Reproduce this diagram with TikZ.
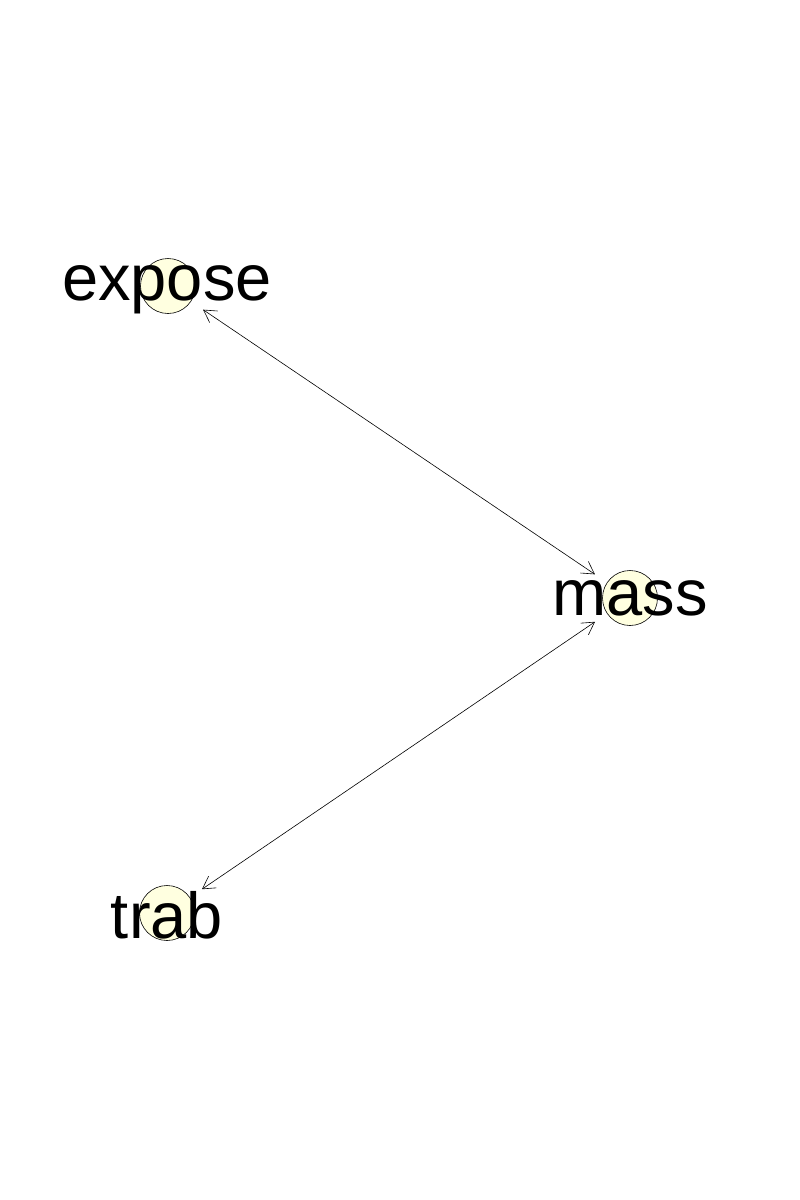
\documentclass[tikz,border=0pt]{standalone}
\usepackage{fontspec}
\setmainfont{Liberation Sans}
\usetikzlibrary{arrows.meta}
\definecolor{vertexcolor}{HTML}{FFFFE0}

\begin{document}
\begin{tikzpicture}[x=1pt, y=-1pt,
  vertex/.style={draw, circle, line width=0.6pt, minimum size=55pt, inner sep=0pt, fill=vertexcolor},
  vlabel/.style={anchor=base, inner sep=0pt, font=\fontsize{65pt}{78pt}\selectfont},
  edge/.style={line width=0.6pt, {Straight Barb[angle=60:14pt]}-{Straight Barb[angle=60:14pt]}, shorten <=14.5pt, shorten >=14.5pt}]%
\useasboundingbox (0,0) rectangle (800,1200);%
\node[vertex] (expose) at (168, 286) {};%
\node[vertex] (mass) at (630, 598) {};%
\node[vertex] (trab) at (167, 913) {};%
\draw[edge] (expose) -- (mass);%
\draw[edge] (trab) -- (mass);%
\node[vlabel] (expose label) at (167, 300) {expose};%
\node[vlabel] (mass label) at (630, 615) {mass};%
\node[vlabel] (trab label) at (167, 938) {trab};%
\end{tikzpicture}
\end{document}
